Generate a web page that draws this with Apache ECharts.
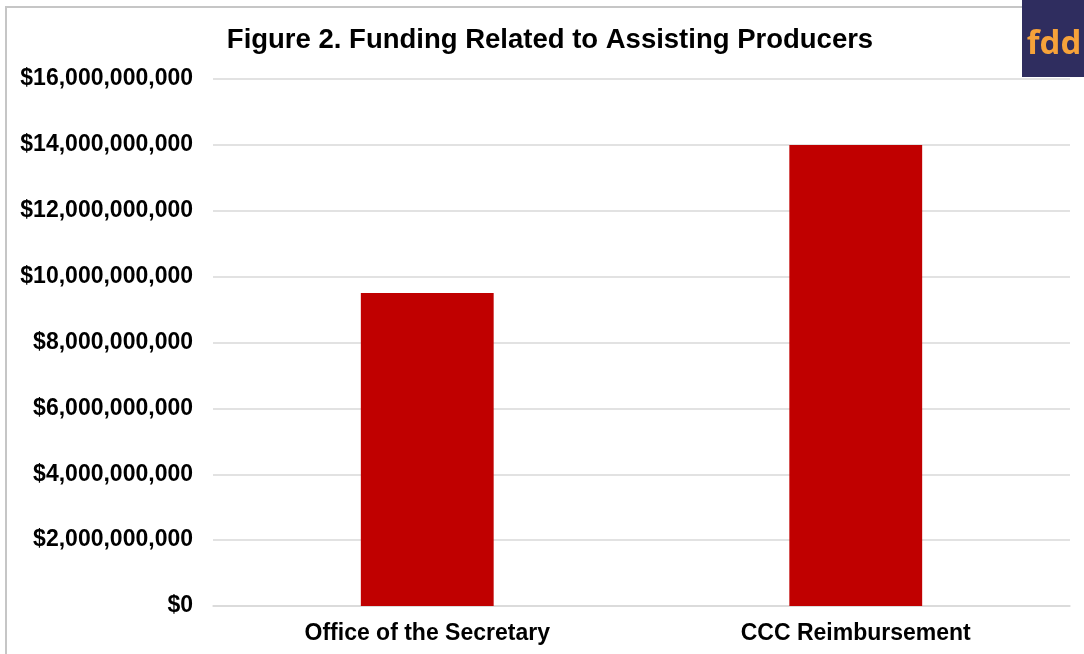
<!DOCTYPE html>
<html>
<head>
<meta charset="utf-8">
<script src="https://cdn.jsdelivr.net/npm/echarts@6/dist/echarts.min.js"></script>
<style>
  html, body { margin: 0; padding: 0; background: #ffffff; }
  #chart { width: 1084px; height: 654px; }
</style>
</head>
<body>
<div id="chart"></div>
<script>
// Funding related to assisting producers, in dollars
const categories = ['Office of the Secretary', 'CCC Reimbursement'];
const funding = [9500000000, 14000000000];
const yMin = 0;
const yMax = 16000000000;
const yStep = 2000000000;

const FONT = '"Liberation Sans", Arial, sans-serif';

const chart = echarts.init(document.getElementById('chart'));

function dollars(v) {
  return '$' + Math.round(v).toString().replace(/\B(?=(\d{3})+(?!\d))/g, ',');
}

chart.setOption({
  animation: false,
  backgroundColor: '#ffffff',
  grid: { left: 213, right: 14, top: 79, bottom: 48, containLabel: false },
  xAxis: {
    type: 'category',
    data: categories,
    axisLine: { show: true, lineStyle: { color: '#d9d9d9', width: 1.5 } },
    axisTick: { show: false },
    axisLabel: {
      margin: 16,
      fontFamily: FONT,
      fontSize: 23,
      fontWeight: 'bold',
      color: '#000000'
    }
  },
  yAxis: {
    type: 'value',
    min: yMin,
    max: yMax,
    interval: yStep,
    axisLine: { show: false },
    axisTick: { show: false },
    splitLine: { lineStyle: { color: '#d9d9d9', width: 1.5 } },
    axisLabel: {
      margin: 20,
      padding: [4, 0, 0, 0],
      formatter: dollars,
      fontFamily: FONT,
      fontSize: 23,
      fontWeight: 'bold',
      color: '#000000'
    }
  },
  series: [{
    type: 'bar',
    data: funding,
    barWidth: '31%',
    itemStyle: { color: '#c00000' }
  }],
  graphic: [
    // chart frame
    {
      type: 'rect',
      shape: { x: 6, y: 7, width: 1200, height: 1000 },
      style: { fill: 'none', stroke: '#c6c6c6', lineWidth: 2 },
      z: -1
    },
    // title
    {
      type: 'text',
      x: 550,
      y: 40,
      style: {
        text: 'Figure 2. Funding Related to Assisting Producers',
        fill: '#000000',
        fontFamily: FONT,
        fontSize: 27.5,
        fontWeight: 'bold',
        align: 'center',
        verticalAlign: 'middle'
      },
      z: 5
    },
    // fdd badge
    {
      type: 'rect',
      shape: { x: 1022, y: 0, width: 62, height: 77 },
      style: { fill: '#2f2d5f' },
      z: 10
    },
    {
      type: 'text',
      x: 1054,
      y: 45,
      style: {
        text: 'fdd',
        fill: '#f6a23a',
        fontFamily: '"Open Sans", "Liberation Sans", sans-serif',
        fontSize: 33,
        fontWeight: 'bold',
        align: 'center',
        verticalAlign: 'middle'
      },
      z: 11
    }
  ]
});
</script>
</body>
</html>
